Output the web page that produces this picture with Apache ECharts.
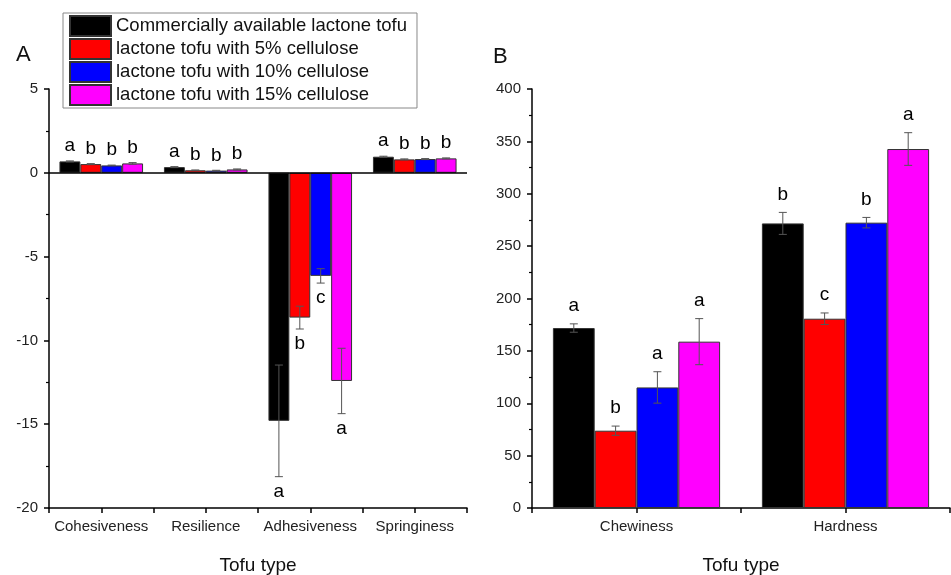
<!DOCTYPE html>
<html>
<head>
<meta charset="utf-8">
<script src="https://cdn.jsdelivr.net/npm/echarts@6/dist/echarts.min.js"></script>
<style>html,body{margin:0;padding:0;background:#fff}#c{width:951px;height:575px}</style>
</head>
<body>
<div id="c"></div>
<script>
// ---- data ----
const categoriesA = ['Cohesiveness', 'Resilience', 'Adhesiveness', 'Springiness'];
const categoriesB = ['Chewiness', 'Hardness'];
const seriesNames = ['Commercially available lactone tofu', 'lactone tofu with 5% cellulose', 'lactone tofu with 10% cellulose', 'lactone tofu with 15% cellulose'];

const commercialA = [0.68, 0.34, -14.8, 0.96];
const cell5A = [0.52, 0.15, -8.64, 0.80];
const cell10A = [0.44, 0.13, -6.15, 0.82];
const cell15A = [0.56, 0.20, -12.42, 0.86];
const errCommercialA = [0.03, 0.03, 3.33, 0.03];
const errCell5A = [0.03, 0.02, 0.68, 0.03];
const errCell10A = [0.02, 0.02, 0.43, 0.03];
const errCell15A = [0.05, 0.03, 1.95, 0.03];
const letCommercialA = ['a', 'a', 'a', 'a'];
const letCell5A = ['b', 'b', 'b', 'b'];
const letCell10A = ['b', 'b', 'c', 'b'];
const letCell15A = ['b', 'b', 'a', 'b'];

const commercialB = [171.8, 271.7];
const cell5B = [73.8, 180.7];
const cell10B = [115.1, 272.4];
const cell15B = [158.8, 342.7];
const errCommercialB = [4, 10.5];
const errCell5B = [4.4, 5.5];
const errCell10B = [15, 5];
const errCell15B = [22, 15.6];
const letCommercialB = ['a', 'b'];
const letCell5B = ['b', 'c'];
const letCell10B = ['a', 'b'];
const letCell15B = ['a', 'a'];

const yTicksA = {min: -20, max: 5, interval: 5};
const yTicksB = {min: 0, max: 400, interval: 50};

// ---- styles ----
const colors = ['#000000', '#ff0000', '#0000ff', '#ff00ff'];
const FONT = 'Arial, "Liberation Sans", sans-serif';

const valsA = [commercialA, cell5A, cell10A, cell15A];
const errsA = [errCommercialA, errCell5A, errCell10A, errCell15A];
const letsA = [letCommercialA, letCell5A, letCell10A, letCell15A];
const valsB = [commercialB, cell5B, cell10B, cell15B];
const errsB = [errCommercialB, errCell5B, errCell10B, errCell15B];
const letsB = [letCommercialB, letCell5B, letCell10B, letCell15B];

function errRender(idx, letters, off) {
  return function (params, api) {
    const cat = api.value(0), val = api.value(1), err = api.value(2);
    const catW = api.size([1, 0])[0];
    const bw = catW * 0.2;
    const c = api.coord([cat, val]);
    const x = c[0] - catW * 0.4 + bw * (idx + 0.5);
    const y1 = api.coord([cat, val + err])[1];
    const y2 = api.coord([cat, val - err])[1];
    const cap = 4;
    const st = {stroke: '#555', lineWidth: 1};
    const top = Math.min(y1, y2), bot = Math.max(y1, y2);
    const ly = val >= 0 ? top - off : bot + off;
    return {
      type: 'group',
      children: [
        {type: 'line', shape: {x1: x, y1: y1, x2: x, y2: y2}, style: st},
        {type: 'line', shape: {x1: x - cap, y1: y1, x2: x + cap, y2: y1}, style: st},
        {type: 'line', shape: {x1: x - cap, y1: y2, x2: x + cap, y2: y2}, style: st},
        {type: 'text', style: {text: letters[params.dataIndex], x: x, y: ly, align: 'center', verticalAlign: 'middle', font: '19px ' + FONT, fill: '#000'}}
      ]
    };
  };
}

function buildSeries(vals, errs, lets, xi, yi, off, zeroLine) {
  const out = [];
  vals.forEach((v, i) => {
    const s = {
      name: seriesNames[i], type: 'bar', xAxisIndex: xi, yAxisIndex: yi,
      data: v, barWidth: '20%', barGap: '0%',
      itemStyle: {color: colors[i], borderColor: '#333', borderWidth: 1},
      silent: true, z: 2
    };
    if (zeroLine && i === 0) {
      s.markLine = {silent: true, symbol: 'none', label: {show: false},
        lineStyle: {color: '#000', width: 1.5, type: 'solid'}, data: [{yAxis: 0}], z: 5};
    }
    out.push(s);
  });
  vals.forEach((v, i) => {
    out.push({
      type: 'custom', xAxisIndex: xi, yAxisIndex: yi, z: 4, silent: true,
      data: v.map((val, k) => [k, val, errs[i][k]]),
      encode: {x: 0, y: 1},
      renderItem: errRender(i, lets[i], off),
      clip: false
    });
  });
  return out;
}

const axisLineStyle = {color: '#000', width: 1.5};

function catAxes(gi, cats, nameGap) {
  // tick axis: each category split in two halves so ticks fall on boundaries and centres
  const halves = cats.flatMap(c => [c + ' L', c + ' R']);
  return [
    {type: 'category', gridIndex: gi, data: cats, position: 'bottom',
      axisLine: {onZero: false, lineStyle: axisLineStyle},
      axisTick: {show: false},
      axisLabel: {interval: 0, color: '#222', fontSize: 15, fontFamily: FONT, margin: 11},
      name: 'Tofu type', nameLocation: 'middle', nameGap: nameGap,
      nameTextStyle: {color: '#111', fontSize: 19, fontFamily: FONT}},
    {type: 'category', gridIndex: gi, data: halves, position: 'bottom', offset: 0,
      axisLine: {show: false, onZero: false},
      axisTick: {show: true, alignWithLabel: false, interval: 0, length: 5, lineStyle: {color: '#000', width: 1.5}},
      axisLabel: {show: false}}
  ];
}

function valAxis(gi, t) {
  return {type: 'value', gridIndex: gi, min: t.min, max: t.max, interval: t.interval,
    axisLine: {show: true, lineStyle: axisLineStyle},
    axisTick: {show: true, length: 5, lineStyle: {color: '#000', width: 1.5}},
    minorTick: {show: true, splitNumber: 2, length: 3, lineStyle: {color: '#000', width: 1.2}},
    splitLine: {show: false},
    axisLabel: {color: '#222', fontSize: 15, fontFamily: FONT, margin: 11}};
}

const chart = echarts.init(document.getElementById('c'), null, {renderer: 'canvas'});
chart.setOption({
  animation: false,
  backgroundColor: '#fff',
  grid: [
    {left: 49, right: 484, top: 89, bottom: 67, containLabel: false, outerBoundsMode: 'none'},
    {left: 532, right: 1, top: 89, bottom: 67, containLabel: false, outerBoundsMode: 'none'}
  ],
  xAxis: catAxes(0, categoriesA, 48).concat(catAxes(1, categoriesB, 48)),
  yAxis: [valAxis(0, yTicksA), valAxis(1, yTicksB)],
  legend: {
    data: seriesNames, orient: 'vertical', left: 63, top: 13,
    icon: 'rect',
    itemWidth: 41, itemHeight: 20, itemGap: 1,
    padding: [2, 10, 2, 6],
    borderColor: '#888', borderWidth: 1, backgroundColor: '#fff',
    textStyle: {color: '#111', fontSize: 18.5, fontFamily: FONT},
    selectedMode: false, z: 10
  },
  graphic: [
    {type: 'text', left: 16, top: 44, style: {text: 'A', font: '22px ' + FONT, fill: '#111'}},
    {type: 'text', left: 493, top: 46, style: {text: 'B', font: '22px ' + FONT, fill: '#111'}}
  ],
  series: buildSeries(valsA, errsA, letsA, 0, 0, 15, true)
    .concat(buildSeries(valsB, errsB, letsB, 2, 1, 18, false))
});
</script>
</body>
</html>
